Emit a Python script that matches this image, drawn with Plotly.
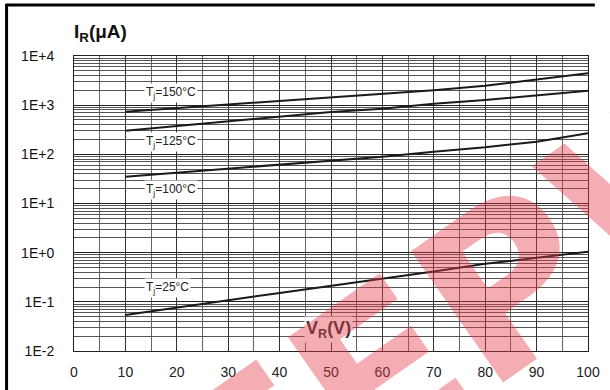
import plotly.graph_objects as go

# ---- data ----
vr = [10, 20, 30, 40, 50, 60, 70, 80, 90, 100]
ir_150 = [738, 873, 1028, 1211, 1432, 1667, 2009, 2489, 3357, 4446]
ir_125 = [303, 378, 471, 583, 728, 849, 1072, 1276, 1560, 1972]
ir_100 = [35.2, 42.5, 51.2, 61.8, 74.5, 89.8, 113.5, 139, 181, 268]
ir_25 = [0.054, 0.077, 0.108, 0.151, 0.211, 0.289, 0.413, 0.592, 0.794, 1.05]

series = [("Tj=150°C", ir_150), ("Tj=125°C", ir_125), ("Tj=100°C", ir_100), ("Tj=25°C", ir_25)]
label_text = ["T<sub>j</sub>=150°C", "T<sub>j</sub>=125°C", "T<sub>j</sub>=100°C", "T<sub>j</sub>=25°C"]

y_tickvals = [0.01, 0.1, 1, 10, 100, 1000, 10000]
y_ticktext = ["1E-2", "1E-1", "1E+0", "1E+1", "1E+2", "1E+3", "1E+4"]
x_tickvals = [0, 10, 20, 30, 40, 50, 60, 70, 80, 90, 100]

W, H = 610, 390
ML, MR, MT, MB = 74, 10, 56, 39
PW, PH = W - ML - MR, H - MT - MB


def px(x):
    return (x - ML) / PW


def py(y):
    return (H - MB - y) / PH


fig = go.Figure()
for name, vals in series:
    fig.add_trace(go.Scatter(x=vr, y=vals, mode="lines", name=name,
                             line=dict(color="#1a1a1a", width=2)))

font = "Liberation Sans, Arial, Helvetica, sans-serif"

fig.update_layout(
    width=W, height=H,
    margin=dict(l=ML, r=MR, t=MT, b=MB),
    paper_bgcolor="white", plot_bgcolor="white",
    showlegend=False,
    font=dict(family=font, size=14, color="#111"),
    xaxis=dict(range=[0, 100], tickvals=x_tickvals, showgrid=True,
               gridcolor="#333", gridwidth=1,
               minor=dict(dtick=5, showgrid=True, gridcolor="#666", gridwidth=1),
               showline=True, linecolor="#222", linewidth=1, mirror=True,
               ticks="", ticklen=0, zeroline=False, ticklabeloverflow="allow",
               ticklabelstandoff=8,
               tickfont=dict(size=14, color="#222")),
    yaxis=dict(type="log", range=[-2, 4], tickvals=y_tickvals, ticktext=y_ticktext,
               showgrid=True, gridcolor="#222", gridwidth=1,
               minor=dict(dtick="D1", showgrid=True, gridcolor="#555", gridwidth=1),
               showline=True, linecolor="#222", linewidth=1, mirror=True,
               ticks="", ticklen=0, zeroline=False, ticklabelstandoff=16,
               ticklabeloverflow="allow",
               tickfont=dict(size=14, color="#111")),
)

label_pos = [93.3, 141.7, 190.0, 288.3]
label_x = [173, 173, 173, 170]
for t, ypx, xpx in zip(label_text, label_pos, label_x):
    fig.add_annotation(x=px(xpx), y=py(ypx), xref="paper", yref="paper", text=t,
                       xanchor="center", yanchor="middle",
                       showarrow=False, bgcolor="white", borderpad=1,
                       font=dict(size=12, color="#222", family=font))

fig.add_annotation(x=px(72), y=py(33), xref="paper", yref="paper", xanchor="left",
                   yanchor="middle",
                   text="<b>I<sub>R</sub>(μA)</b>", showarrow=False,
                   font=dict(size=19, color="#111", family=font))
fig.add_annotation(x=px(334), y=py(329), xref="paper", yref="paper",
                   xanchor="center", yanchor="middle",
                   text="<b>V<sub>R</sub>(V)</b>", showarrow=False, bgcolor="white",
                   font=dict(size=18, color="#333", family=font))

# frame
fig.add_shape(type="line", xref="paper", yref="paper", x0=px(4), x1=px(607), y0=py(5), y1=py(5),
              line=dict(color="black", width=3))
fig.add_shape(type="line", xref="paper", yref="paper", x0=px(5), x1=px(5), y0=py(4), y1=py(400),
              line=dict(color="black", width=3))

# watermark
fig.add_annotation(x=px(495), y=py(302), xref="paper", yref="paper", text="<b>EEPW</b>",
                   xanchor="center", yanchor="middle",
                   showarrow=False, textangle=-35,
                   font=dict(size=220, color="rgba(228,60,75,0.42)", family="DejaVu Sans"))

fig.write_html("out.html")
